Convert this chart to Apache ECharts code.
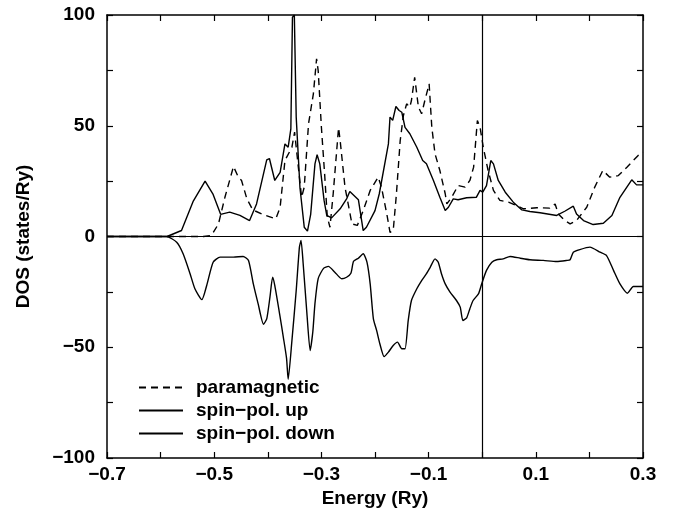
<!DOCTYPE html>
<html>
<head>
<meta charset="utf-8">
<script src="https://cdn.jsdelivr.net/npm/echarts@6/dist/echarts.min.js"></script>
<style>
  html, body { margin: 0; padding: 0; background: #fff; }
  #chart { width: 674px; height: 514px; }
</style>
</head>
<body>
<div id="chart"></div>
<script>
// paramagnetic DOS (dashed)
const paraEnergy = [-0.7, -0.52, -0.505, -0.492, -0.48, -0.464, -0.455, -0.449, -0.439, -0.428, -0.408, -0.385, -0.377, -0.368, -0.355, -0.35, -0.345, -0.337, -0.332, -0.324, -0.315, -0.309, -0.306, -0.3, -0.294, -0.289, -0.284, -0.278, -0.268, -0.265, -0.256, -0.243, -0.233, -0.222, -0.209, -0.194, -0.188, -0.178, -0.172, -0.166, -0.16, -0.153, -0.147, -0.141, -0.135, -0.132, -0.126, -0.119, -0.113, -0.107, -0.099, -0.094, -0.088, -0.079, -0.069, -0.066, -0.057, -0.045, -0.032, -0.023, -0.016, -0.009, -0.004, 0.002, 0.011, 0.021, 0.033, 0.049, 0.064, 0.077, 0.102, 0.126, 0.136, 0.142, 0.154, 0.164, 0.176, 0.195, 0.21, 0.225, 0.238, 0.254, 0.27, 0.291, 0.3]
const paraDos = [0, 0, 0.5, 5.7, 17.7, 31.6, 26.8, 25.3, 17, 12, 9.8, 8, 13.2, 34.3, 40.3, 47.1, 35.8, 17.7, 22.3, 50.9, 64.4, 80.2, 74.9, 49.3, 28.3, 8.7, 4.2, 19.3, 49.1, 43.3, 22.3, 5.7, 5, 11.7, 20.8, 26.8, 22.3, 10.2, 1.9, 2.7, 19.3, 43.3, 54.6, 59.9, 58.4, 61.4, 71.9, 58.4, 55.4, 61.4, 68.9, 49.3, 37.3, 29.8, 19.3, 14.7, 17.7, 23, 22.3, 25.3, 31.3, 52.4, 49.3, 40.3, 29.8, 20.8, 16.3, 15.5, 14, 12.5, 13, 12.8, 14.7, 10.2, 7.2, 5.7, 7.2, 13.2, 22.3, 29.8, 26.8, 27.5, 31.3, 36.6, 38]

// spin-polarised, majority (up)
const upEnergy = [-0.7, -0.588, -0.561, -0.539, -0.517, -0.502, -0.488, -0.471, -0.452, -0.434, -0.421, -0.402, -0.397, -0.387, -0.377, -0.368, -0.362, -0.357, -0.354, -0.3505, -0.347, -0.34, -0.332, -0.326, -0.32, -0.312, -0.308, -0.303, -0.295, -0.29, -0.281, -0.265, -0.253, -0.247, -0.231, -0.222, -0.216, -0.2, -0.192, -0.175, -0.172, -0.167, -0.161, -0.155, -0.15, -0.144, -0.135, -0.132, -0.122, -0.111, -0.104, -0.091, -0.079, -0.069, -0.063, -0.054, -0.045, -0.029, -0.011, -0.004, 0.001, 0.008, 0.016, 0.021, 0.03, 0.043, 0.058, 0.074, 0.089, 0.108, 0.139, 0.154, 0.17, 0.176, 0.189, 0.207, 0.226, 0.242, 0.257, 0.279, 0.288, 0.3]
const upDos = [0, 0, 2.7, 16, 25, 19, 10, 11, 9.5, 7.2, 14.7, 34.6, 35.2, 25.3, 29, 41.8, 40.3, 48.6, 99, 100, 53.9, 22, 4.2, 2.4, 10, 32.8, 36.9, 32.8, 16.3, 9.5, 8.4, 12.5, 17, 20.3, 16.6, 2.7, 4.2, 11.7, 19.3, 41.8, 53.9, 52.4, 58.7, 56.9, 56.1, 49.3, 46.4, 47.1, 40.3, 34.3, 32.8, 25.3, 17.7, 11.7, 13.2, 17, 16.6, 17.5, 17.7, 20.8, 20, 23, 34.3, 32.8, 25.3, 20, 15.5, 12, 11.3, 10.7, 9.5, 11.4, 13.7, 10.2, 7.2, 5.4, 6, 9.5, 17.7, 25.6, 23.3, 23.3]

// spin-polarised, minority (down), plotted negative
const downEnergy = [-0.7, -0.589, -0.57, -0.558, -0.545, -0.536, -0.523, -0.514, -0.502, -0.489, -0.464, -0.446, -0.436, -0.427, -0.418, -0.408, -0.402, -0.396, -0.391, -0.387, -0.377, -0.371, -0.365, -0.362, -0.355, -0.347, -0.341, -0.338, -0.334, -0.327, -0.321, -0.316, -0.312, -0.306, -0.296, -0.287, -0.275, -0.262, -0.253, -0.245, -0.24, -0.231, -0.222, -0.215, -0.209, -0.203, -0.197, -0.191, -0.183, -0.175, -0.166, -0.158, -0.15, -0.144, -0.138, -0.132, -0.122, -0.113, -0.104, -0.097, -0.088, -0.082, -0.076, -0.069, -0.06, -0.048, -0.041, -0.036, -0.029, -0.023, -0.017, -0.007, -0.001, 0.008, 0.018, 0.027, 0.039, 0.052, 0.071, 0.089, 0.114, 0.139, 0.158, 0.164, 0.17, 0.182, 0.201, 0.22, 0.232, 0.245, 0.257, 0.271, 0.282, 0.3]
const downDos = [0, 0, -2.6, -7.8, -16.8, -23.6, -28.5, -22.1, -11.6, -9.3, -9.3, -9, -10.8, -21.4, -30.4, -39.6, -37.2, -27.4, -18.4, -22.1, -36.4, -45.5, -55, -64.5, -47, -24.4, -4.8, -1.8, -12.3, -34.9, -51.5, -43, -30.2, -19, -14.4, -13.5, -16.1, -19.1, -18.4, -16.6, -11.2, -9.8, -7.8, -11.6, -21.4, -37.2, -42.4, -48.4, -54.2, -52.2, -49.2, -47.7, -50.7, -50.7, -37.9, -28.9, -23.6, -19.9, -16.8, -13.9, -10.1, -11.6, -16.8, -21.4, -25.1, -28.9, -31.9, -37.9, -36.7, -32.6, -28.9, -25.9, -21.4, -15.3, -11.6, -10.5, -10.1, -9, -9.8, -10.5, -10.8, -11.3, -10.8, -10.5, -7.1, -5.9, -4.8, -7.1, -8.6, -15.3, -21.4, -25.6, -22.6, -22.6]

const seriesNames = ["paramagnetic", "spin\u2212pol. up", "spin\u2212pol. down"]

const FONT = "'Liberation Sans', Arial, Helvetica, sans-serif"
const zip = (xs, ys) => xs.map((x, i) => [x, ys[i]])
const minus = (s) => s.replace("-", "\u2212")

const chart = echarts.init(document.getElementById("chart"), null, { renderer: "canvas" })

const axisLine = { show: true, onZero: false, lineStyle: { color: "#000", width: 1.5 } }
const axisTick = { show: true, inside: true, length: 6, lineStyle: { color: "#000", width: 1.2 } }

const xBase = {
  type: "value",
  min: -0.7,
  max: 0.3,
  interval: 0.1,
  axisLine,
  axisTick,
  splitLine: { show: false },
}
const yBase = {
  type: "value",
  min: -100,
  max: 100,
  interval: 25,
  axisLine,
  axisTick,
  splitLine: { show: false },
}

chart.setOption({
  animation: false,
  backgroundColor: "#fff",
  textStyle: { fontFamily: FONT },
  grid: { left: 107, right: 31, top: 15, bottom: 56, containLabel: false },
  legend: {
    orient: "vertical",
    left: 138,
    top: 378,
    padding: 0,
    itemWidth: 44,
    itemHeight: 14,
    itemGap: 4,
    data: seriesNames,
    itemStyle: { opacity: 0 },
    textStyle: {
      fontFamily: FONT,
      fontWeight: "bold",
      fontSize: 19,
      lineHeight: 19,
      color: "#000",
      padding: [0, 0, 0, 8],
    },
  },
  xAxis: [
    {
      ...xBase,
      position: "bottom",
      name: "Energy (Ry)",
      nameLocation: "middle",
      nameGap: 30,
      nameTextStyle: { fontFamily: FONT, fontWeight: "bold", fontSize: 19, color: "#000" },
      axisLabel: {
        margin: 7,
        fontFamily: FONT,
        fontWeight: "bold",
        fontSize: 19,
        color: "#000",
        formatter: (v) => {
          const k = Math.round(v * 10)
          if (k % 2 === 0) return ""
          return minus((k / 10).toFixed(1))
        },
      },
    },
    { ...xBase, position: "top", axisLabel: { show: false } },
  ],
  yAxis: [
    {
      ...yBase,
      position: "left",
      name: "DOS (states/Ry)",
      nameLocation: "middle",
      nameGap: 74,
      nameTextStyle: { fontFamily: FONT, fontWeight: "bold", fontSize: 19, color: "#000" },
      axisLabel: {
        margin: 12,
        fontFamily: FONT,
        fontWeight: "bold",
        fontSize: 19,
        color: "#000",
        formatter: (v) => (Math.round(v) % 50 === 0 ? minus(String(Math.round(v))) : ""),
      },
    },
    { ...yBase, position: "right", axisLabel: { show: false } },
  ],
  series: [
    {
      name: seriesNames[0],
      type: "line",
      symbol: "none",
      data: zip(paraEnergy, paraDos),
      lineStyle: { color: "#000", width: 1.4, type: [7, 5] },
      itemStyle: { color: "#000" },
      markLine: {
        silent: true,
        symbol: "none",
        label: { show: false },
        lineStyle: { color: "#000", width: 1.2, type: "solid" },
        data: [{ yAxis: 0 }, { xAxis: 0 }],
      },
    },
    {
      name: seriesNames[1],
      type: "line",
      symbol: "none",
      data: zip(upEnergy, upDos),
      lineStyle: { color: "#000", width: 1.4 },
      itemStyle: { color: "#000" },
    },
    {
      name: seriesNames[2],
      type: "line",
      symbol: "none",
      smooth: 0.2,
      data: zip(downEnergy, downDos),
      lineStyle: { color: "#000", width: 1.4 },
      itemStyle: { color: "#000" },
    },
  ],
})
</script>
</body>
</html>
